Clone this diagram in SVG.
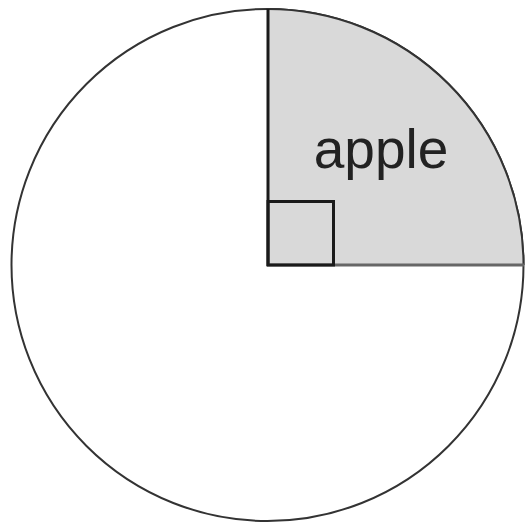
<svg xmlns="http://www.w3.org/2000/svg" width="525" height="525" viewBox="0 0 525 525">
<style>
.circ{fill:#fff;stroke:#333;stroke-width:2}
.sector{fill:#d9d9d9;stroke:none}
.lbl{font-family:"Liberation Sans",Arial,sans-serif;font-size:55px;fill:#222}
</style>
<rect width="525" height="525" fill="#fff"/>
<g id="circle">
<circle class="circ" cx="267.5" cy="265" r="256"/>
</g>
<g id="sector">
<path class="sector" d="M267.5,265 L267.5,9 A256,256 0 0 1 523.5,265 Z"/>
<path d="M267.5,9 A256,256 0 0 1 523.5,265" fill="none" stroke="#333" stroke-width="2"/>
<text class="lbl" x="381" y="168" text-anchor="middle">apple</text>
</g>
<g id="connectors">
<line x1="268" y1="9" x2="268" y2="266" stroke="#1a1a1a" stroke-width="3"/>
<line x1="267" y1="265" x2="524" y2="265" stroke="#666" stroke-width="3"/>
<rect x="268" y="201.5" width="65.5" height="63.5" fill="none" stroke="#1a1a1a" stroke-width="3"/>
</g>
</svg>
